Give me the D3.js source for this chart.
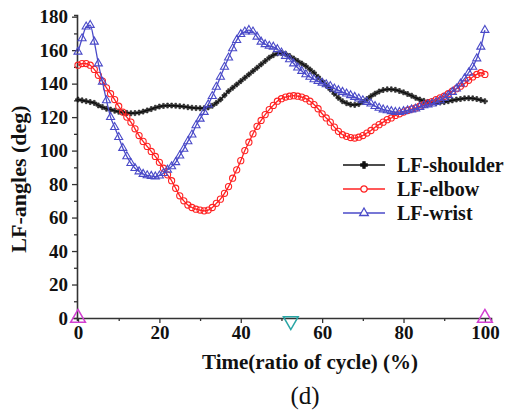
<!DOCTYPE html>
<html>
<head>
<meta charset="utf-8">
<script src="https://cdn.jsdelivr.net/npm/d3@7"></script>
<style>
  body { margin: 0; background: #fff; }
  svg { display: block; }
  text { font-family: "Liberation Serif", "Times New Roman", serif; }
</style>
</head>
<body>
<svg id="chart" width="509" height="410"></svg>
<script>
// time axis, one sample per percent of cycle
let TIME = d3.range(0, 101);

// LF-shoulder angles (deg)
let SHOULDER = [
    130.5, 130, 129.5, 129, 128.5, 127, 126, 125, 124.5, 123.8,
    123.2, 122.8, 122.5, 122.3, 122.4, 122.7, 123.3, 124, 124.8, 125.6,
    126.3, 126.7, 126.9, 126.9, 126.8, 126.5, 126.3, 125.9, 125.6, 125.4,
    125.3, 125.3, 125.8, 126.8, 128.5, 130.5, 133, 135.5, 137.5, 139.5,
    141.5, 143.5, 145.5, 147.5, 149.5, 151.5, 153.5, 155.5, 157, 158,
    158.3, 157.8, 156.5, 155, 153.5, 152, 150.5, 148.5, 146.5, 144,
    141.5, 139, 136.5, 134, 131.5, 129.5, 128.3, 127.5, 127.3, 127.8,
    129, 130.8, 132.5, 134, 135.3, 136.2, 136.6, 136.6, 136.3, 135.6,
    134.8, 133.8, 132.8, 131.5, 130.5, 129.7, 129, 128.6, 128.5, 128.7,
    129, 129.5, 130, 130.5, 130.8, 131.2, 131.3, 131.2, 130.8, 130.2,
    129.5
];

// LF-elbow angles (deg)
let ELBOW = [
    151, 152, 152, 151, 148.5, 145, 141.5, 137.5, 134, 130.5,
    126.5, 123, 120, 117, 113, 109, 105.5, 102.5, 99.5, 96.5,
    93, 89.5, 85.5, 82, 77.5, 73, 70, 67.5, 66, 65,
    64.5, 64, 64.5, 66, 68.5, 71, 74.5, 78.5, 83.5, 88.5,
    94, 100, 105, 110, 114.5, 118, 121.5, 124.5, 127, 129.5,
    131, 132, 132.5, 132.8, 132.5, 132, 131, 129.5, 127.5, 125,
    122, 119.5, 117, 114, 111.5, 109.5, 108.5, 107.8, 107.5, 108,
    109, 110.5, 112, 114, 115.5, 117, 118.5, 119.5, 121, 122,
    123, 124, 124.8, 125.5, 126.5, 127.5, 128.5, 129.3, 130.5, 131.5,
    132.5, 134, 135.5, 137, 138.5, 140, 142, 144, 145.5, 146.5,
    145.5
];

// LF-wrist angles (deg)
let WRIST = [
    159, 167, 174, 175, 165, 152, 141, 130, 120, 114,
    108, 101.5, 96.5, 92.5, 89.5, 87.5, 86, 85.2, 84.8, 84.5,
    85, 86.5, 88.5, 90.5, 93, 97, 101, 105.5, 109.5, 115,
    119, 123, 127.5, 132.5, 138, 144, 150, 155.5, 161, 166,
    169.5, 171, 172, 171, 168, 165, 163.5, 162.5, 162, 160.5,
    158.5, 156.5, 154.5, 152, 149.5, 147.5, 145.5, 144, 142.5, 141.5,
    140.5, 139.5, 138.5, 137, 136, 135, 134, 133, 132, 131,
    130, 129, 128, 126.5, 125.5, 124.5, 124, 123.5, 123, 123,
    123.5, 124, 124.5, 125, 126, 127, 127.5, 128, 129, 130,
    131.5, 133, 135, 137, 140, 143, 146.5, 150, 155, 162,
    172
];

// event markers on the time axis
let EVENTS = [
    {t: 0, type: "up"},
    {t: 52.3, type: "down"},
    {t: 100, type: "up"}
];

let X_TICKS = [0, 20, 40, 60, 80, 100];
let X_MINOR = [10, 30, 50, 70, 90];
let Y_TICKS = [0, 20, 40, 60, 80, 100, 120, 140, 160, 180];
let Y_MINOR = [10, 30, 50, 70, 90, 110, 130, 150, 170];

const SERIES = [
    {name: "LF-shoulder", values: SHOULDER, color: "#111", marker: "cross"},
    {name: "LF-elbow", values: ELBOW, color: "#f22", marker: "circle"},
    {name: "LF-wrist", values: WRIST, color: "#4a4ac8", marker: "triangle"}
];

let svg = d3.select("#chart");

let x = d3.scaleLinear()
    .domain([-0.25, 101.5])
    .range([77, 491]);

let y = d3.scaleLinear()
    .domain([0, 181])
    .range([318, 15]);

// axes
let xAxis = svg.append("g")
    .attr("transform", "translate(0," + y(0) + ")")
    .call(d3.axisBottom(x).tickValues(X_TICKS).tickSize(5).tickSizeOuter(0));
xAxis.append("g")
    .call(d3.axisBottom(x).tickValues(X_MINOR).tickSize(3).tickFormat(""));

let yAxis = svg.append("g")
    .attr("transform", "translate(" + x.range()[0] + ",0)")
    .call(d3.axisLeft(y).tickValues(Y_TICKS).tickSize(5).tickSizeOuter(0));
yAxis.append("g")
    .call(d3.axisLeft(y).tickValues(Y_MINOR).tickSize(3).tickFormat(""));

svg.selectAll(".domain").attr("stroke", "#333").attr("stroke-width", 1.6);
svg.selectAll(".tick line").attr("stroke", "#333").attr("stroke-width", 1.3);
svg.selectAll("g.tick text")
    .attr("font-family", "'Liberation Serif', serif")
    .attr("font-size", 19)
    .attr("font-weight", "bold")
    .attr("fill", "#111");
xAxis.selectAll(".tick text").attr("dy", "0.6em").attr("y", 10);
yAxis.selectAll(".tick text").attr("x", -9);
// the domain lines of the minor groups are not wanted
xAxis.select("g .domain").remove();
yAxis.select("g .domain").remove();

function symbolFor(kind, size) {
    if (kind == "circle") {
        return d3.symbol().type(d3.symbolCircle).size(size)();
    }
    if (kind == "triangle") {
        return d3.symbol().type(d3.symbolTriangle).size(size)();
    }
    return d3.symbol().type(d3.symbolCross).size(size)();
}

let line = d3.line()
    .x((d, i) => x(TIME[i]))
    .y(d => y(d))
    .curve(d3.curveMonotoneX);

let plot = svg.append("g");

for (let s = 0; s < SERIES.length; s++) {
    let ser = SERIES[s];
    plot.append("path")
        .datum(ser.values)
        .attr("fill", "none")
        .attr("stroke", ser.color)
        .attr("stroke-width", 1.3)
        .attr("d", line);

    let size = ser.marker == "circle" ? 30 : (ser.marker == "triangle" ? 28 : 14);
    plot.append("g")
        .selectAll("path")
        .data(ser.values)
        .join("path")
        .attr("transform", (d, i) => "translate(" + x(TIME[i]) + "," + y(d) + ")")
        .attr("d", symbolFor(ser.marker, size))
        .attr("fill", ser.marker == "cross" ? ser.color : "#fff")
        .attr("fill-opacity", ser.marker == "cross" ? 0.8 : 0)
        .attr("stroke", ser.color)
        .attr("stroke-width", ser.marker == "cross" ? 0.6 : 1.1);
}

// event triangles on the time axis
svg.append("g")
    .selectAll("path")
    .data(EVENTS)
    .join("path")
    .attr("transform", d => "translate(" + x(d.t) + "," + (y(0) + (d.type == "up" ? 0 : 3)) + ")" + (d.type == "down" ? " rotate(180)" : ""))
    .attr("d", d3.symbol().type(d3.symbolTriangle).size(95)())
    .attr("fill", "none")
    .attr("stroke", d => d.type == "up" ? "#d23fd2" : "#2aa6a6")
    .attr("stroke-width", 1.5);

// legend
let legend = svg.append("g").attr("transform", "translate(343,165)");
for (let s = 0; s < SERIES.length; s++) {
    let ser = SERIES[s];
    let row = legend.append("g").attr("transform", "translate(0," + (s * 24) + ")");
    row.append("line")
        .attr("x1", 0).attr("x2", 42)
        .attr("stroke", ser.color)
        .attr("stroke-width", 1.5);
    row.append("path")
        .attr("transform", "translate(21,0)")
        .attr("d", symbolFor(ser.marker, ser.marker == "cross" ? 22 : 32))
        .attr("fill", ser.marker == "cross" ? ser.color : "#fff")
        .attr("stroke", ser.color)
        .attr("stroke-width", 1.3);
    row.append("text")
        .attr("x", 54)
        .attr("y", 7)
        .attr("font-size", 20)
        .attr("font-weight", "bold")
        .attr("fill", "#111")
        .text(ser.name);
}

// axis titles
svg.append("text")
    .attr("x", 310)
    .attr("y", 369)
    .attr("text-anchor", "middle")
    .attr("font-size", 21)
    .attr("font-weight", "bold")
    .attr("fill", "#111")
    .text("Time(ratio of cycle) (%)");

svg.append("text")
    .attr("transform", "translate(26,179) rotate(-90)")
    .attr("text-anchor", "middle")
    .attr("font-size", 22)
    .attr("font-weight", "bold")
    .attr("fill", "#111")
    .text("LF-angles (deg)");

svg.append("text")
    .attr("x", 305)
    .attr("y", 404)
    .attr("text-anchor", "middle")
    .attr("font-size", 25)
    .attr("fill", "#111")
    .text("(d)");
</script>
</body>
</html>
